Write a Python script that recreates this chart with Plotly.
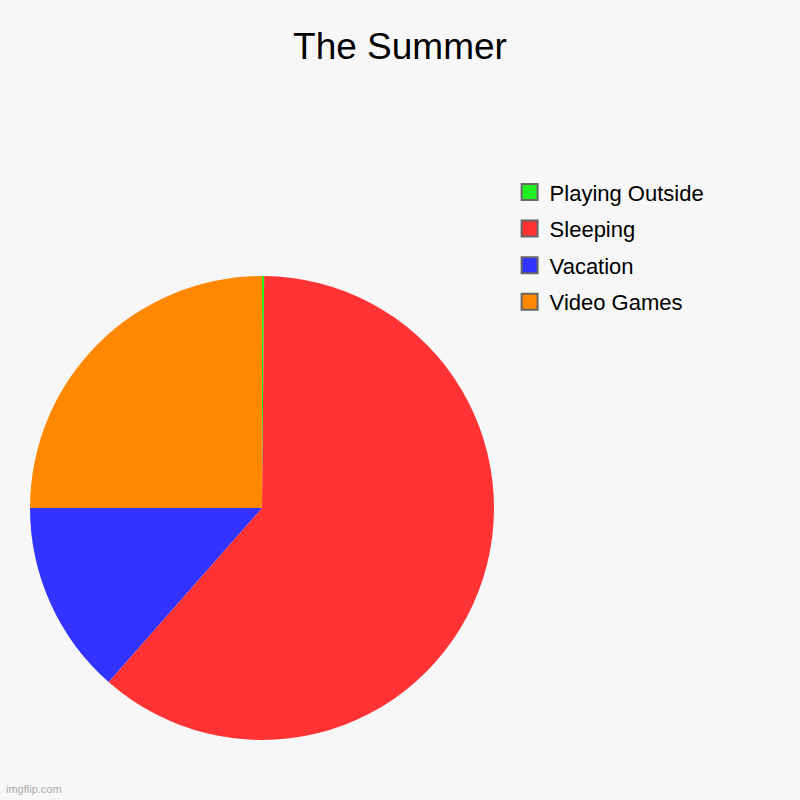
import plotly.graph_objects as go

# slices in clockwise order from 12 o'clock
labels = ["Playing Outside", "Sleeping", "Vacation", "Video Games"]
values = [0.15, 61.35, 13.5, 25.0]
colors = ["#22ee22", "#ff3333", "#3333ff", "#ff8800"]

fig = go.Figure()
fig.add_trace(go.Pie(
    labels=labels, values=values,
    sort=False, direction="clockwise", rotation=0,
    marker=dict(colors=colors, line=dict(width=0)),
    textinfo="none", hoverinfo="label+percent",
    showlegend=False,
    domain=dict(x=[0.0375, 0.6175], y=[0.075, 0.655]),
))

# legend entries (square swatches with grey outline, like the original)
for lab, col in zip(labels, colors):
    fig.add_trace(go.Scatter(
        x=[None], y=[None], mode="markers", name=lab, legendgroup=lab,
        marker=dict(symbol="square", size=16, color=col,
                    line=dict(color="#666666", width=2)),
    ))

fig.update_layout(
    width=800, height=800,
    paper_bgcolor="#f7f7f7", plot_bgcolor="#f7f7f7",
    margin=dict(l=0, r=0, t=0, b=0),
    font=dict(family="Liberation Sans, Arial, sans-serif", color="#000000"),
    title=dict(text="The Summer", x=0.5, xanchor="center",
               y=0.943, yanchor="middle", font=dict(size=37)),
    xaxis=dict(visible=False), yaxis=dict(visible=False),
    legend=dict(x=0.637, y=0.786, xanchor="left", yanchor="top",
                font=dict(size=22), tracegroupgap=5,
                bgcolor="rgba(0,0,0,0)"),
    annotations=[dict(text="imgflip.com", x=0.005, y=0.004,
                      xref="paper", yref="paper", xanchor="left",
                      yanchor="bottom", showarrow=False,
                      font=dict(size=11, color="#aaaaaa"))],
)

fig.write_html("out.html", config={"displayModeBar": False},
               post_script="document.body.style.margin='0';")
